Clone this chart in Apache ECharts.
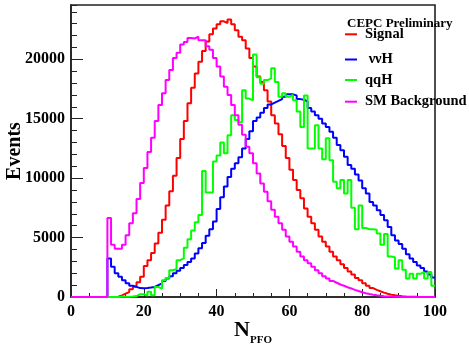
<!DOCTYPE html>
<html>
<head>
<meta charset="utf-8">
<script src="https://cdn.jsdelivr.net/npm/echarts@6/dist/echarts.min.js"></script>
<style>
html,body{margin:0;padding:0;background:#fff;}
#chart{width:469px;height:346px;}
</style>
</head>
<body>
<div id="chart"></div>
<script>
// Bin lower edges are 0..99 (bin width 1), N_PFO
const seriesNames = ['Signal', ' \u03bd\u03bdH', 'qqH', 'SM Background'];
const xTickLabels = ['0', '20', '40', '60', '80', '100'];
const yTickLabels = ['0', '5000', '10000', '15000', '20000'];

const signal = [
  0,0,0,0,0,0,0,0,0,0,
  0,0,30,140,280,420,650,870,1250,1700,
  2600,3100,3700,4500,5400,6500,7700,8900,10200,11700,
  13300,14800,16300,17600,18800,19800,20700,21500,22100,22600,
  22950,23200,23050,23350,22950,22450,21900,21600,20900,20100,
  19400,18550,18100,17400,16450,15300,14600,13700,12700,11700,
  10700,9850,9000,8300,7450,6750,6200,5650,5100,4650,
  4250,3800,3400,3100,2750,2450,2150,1900,1600,1400,
  1150,950,750,600,480,370,280,200,140,100,
  70,45,30,20,12,8,5,5,3,3
];
const nunuH = [
  0,0,0,0,0,0,0,0,0,0,
  3250,2550,2000,1700,1400,1150,950,850,750,730,
  760,800,850,1000,1150,1350,1550,1750,2000,2200,
  2450,2700,2950,3250,3650,4100,4550,5150,5700,6350,
  7400,8400,9300,10100,10800,11250,11750,12500,13300,13950,
  14800,15100,15500,15900,16200,16350,16500,16650,16850,17050,
  17050,16950,16650,16600,16450,15900,15600,15300,15000,14600,
  14300,13900,13400,12800,12350,11800,11100,10800,10300,9800,
  9150,8700,8000,7700,7300,6900,6450,5900,5200,4750,
  4450,4050,3600,3250,2950,2650,2450,2150,1900,1650
];
const qqH = [
  0,0,0,0,0,0,0,0,0,0,
  0,10,10,20,20,30,50,80,230,230,
  130,450,150,850,700,1400,1600,2250,2350,3100,
  3250,4150,4850,5600,6300,6900,10600,8800,8800,11400,
  11900,13000,12100,13600,15300,14900,14700,17400,16700,16550,
  20400,18500,17950,18250,18400,19250,18100,16850,17150,16850,
  17000,16550,15600,14300,16950,12500,12500,14450,12500,11600,
  13350,11500,9700,9150,9850,8700,9850,7500,5700,7700,
  5800,5700,5700,5650,5350,4400,5300,3400,3350,2400,
  3100,2300,1550,1950,1550,1950,2100,1550,2100,950
];
const smBackground = [
  0,0,0,0,0,0,0,0,0,0,
  6650,4400,4050,4050,4400,5200,6200,7050,8250,9600,
  10850,12200,13400,14800,16150,17150,18250,19100,20100,20550,
  21250,21450,21800,21750,21900,21600,21600,21100,20800,20100,
  19400,18550,17700,17000,16150,15300,14500,13650,12650,12100,
  11250,10400,9550,8850,8050,7350,6750,6200,5650,5100,
  4650,4250,3800,3400,3100,2850,2550,2250,2000,1750,
  1550,1350,1200,1050,950,820,720,600,500,400,
  320,250,190,140,100,70,50,35,25,15,
  5,5,5,5,5,5,5,5,5,5
];
const colors = ['#ff0000', '#0000ff', '#00ff00', '#ff00ff'];

function histPoints(values) {
  const pts = values.map((v, i) => [i, v]);
  pts.push([values.length, values[values.length - 1]]);
  return pts;
}

const serif = 'Liberation Serif, Times New Roman, serif';
const chart = echarts.init(document.getElementById('chart'), null, {renderer: 'canvas'});
const allData = [signal, nunuH, qqH, smBackground];
const legendTops = [34.3, 59.5, 80, 101.7];

const option = {
  animation: false,
  backgroundColor: '#ffffff',
  title: {
    text: 'CEPC Preliminary',
    left: 342, top: 12,
    textStyle: {fontFamily: serif, fontWeight: 'bold', fontSize: 13, color: '#000', lineHeight: 14}
  },
  legend: seriesNames.map((n, k) => ({
    data: [n],
    left: 345, top: legendTops[k] - 8,
    itemWidth: 12, itemHeight: 2, icon: 'rect',
    padding: 0,
    textStyle: {fontFamily: serif, fontWeight: 'bold', fontSize: 14.5, color: '#000', lineHeight: 16, padding: [0, 0, 0, 3]}
  })),
  grid: {left: 71, right: 34, top: 5, bottom: 49, show: true, borderColor: '#222', borderWidth: 1.6,
         backgroundColor: 'transparent', containLabel: false, outerBoundsMode: 'none'},
  xAxis: {
    type: 'value', min: 0, max: 100, interval: 20,
    axisLine: {show: true, onZero: false, lineStyle: {color: '#222', width: 1.6}},
    axisTick: {show: true, inside: true, length: 8, lineStyle: {color: '#222', width: 1}},
    minorTick: {show: true, splitNumber: 4, length: 4, lineStyle: {color: '#222', width: 1}},
    splitLine: {show: false},
    axisLabel: {
      margin: 7, color: '#000', fontFamily: serif, fontWeight: 'bold', fontSize: 16,
      formatter: v => xTickLabels[Math.round(v / 20)] !== undefined ? xTickLabels[Math.round(v / 20)] : ''
    },
    name: '{a|N}{b|PFO}', nameLocation: 'middle', nameGap: 17, nameMoveOverlap: false,
    nameTextStyle: {
      rich: {
        a: {fontFamily: serif, fontWeight: 'bold', fontSize: 22, lineHeight: 32, color: '#000'},
        b: {fontFamily: serif, fontWeight: 'bold', fontSize: 11, lineHeight: 12, color: '#000', verticalAlign: 'bottom'}
      }
    }
  },
  yAxis: [{
    type: 'value', min: 0, max: 24570, interval: 5000,
    axisLine: {show: true, lineStyle: {color: '#222', width: 1.6}},
    axisTick: {show: true, inside: true, length: 12, lineStyle: {color: '#222', width: 1}},
    splitLine: {show: false},
    axisLabel: {
      margin: 6, color: '#000', fontFamily: serif, fontWeight: 'bold', fontSize: 16, showMaxLabel: false,
      formatter: v => { const k = Math.round(v / 5000); return (v % 5000 === 0 && yTickLabels[k] !== undefined) ? yTickLabels[k] : ''; }
    },
    name: 'Events', nameLocation: 'middle', nameGap: 46, nameRotate: 90, nameMoveOverlap: false,
    nameTextStyle: {fontFamily: serif, fontWeight: 'bold', fontSize: 20, color: '#000'}
  }, {
    type: 'value', min: 0, max: 24570, interval: 1000, position: 'left',
    axisLine: {show: false},
    axisTick: {show: true, inside: true, length: 6, lineStyle: {color: '#222', width: 1}},
    axisLabel: {show: false},
    splitLine: {show: false}
  }],
  series: allData.map((d, k) => ({
    name: seriesNames[k],
    type: 'line',
    step: 'end',
    yAxisIndex: 0,
    showSymbol: false,
    symbol: 'none',
    color: colors[k],
    lineStyle: {color: colors[k], width: 2},
    data: histPoints(d),
    z: 3 + k
  }))
};
chart.setOption(option);
</script>
</body>
</html>
